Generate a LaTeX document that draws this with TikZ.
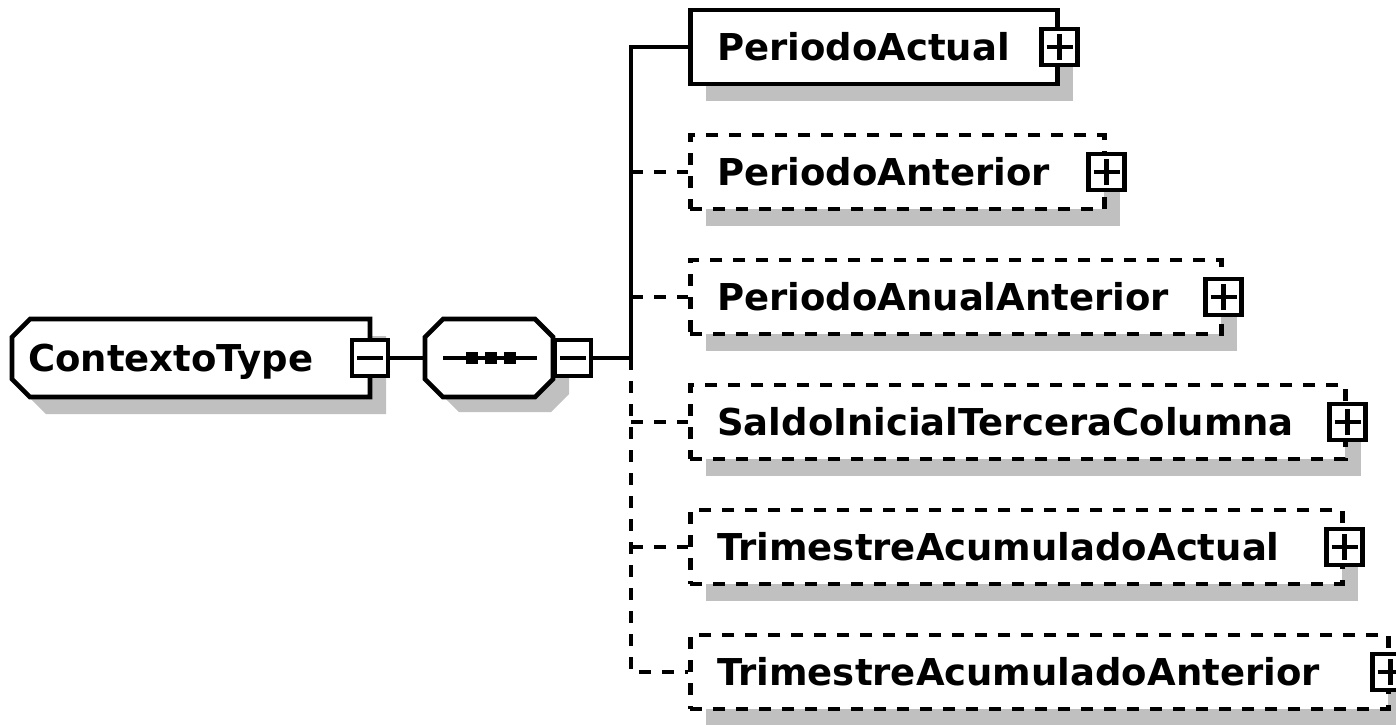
\documentclass[tikz,border=0pt]{standalone}
\usepackage{fontspec}
\setmainfont{DejaVu Sans}
\usetikzlibrary{shadows}
\definecolor{shadowgray}{RGB}{192,192,192}
\tikzset{
  lw/.style={line width=4.6pt},
  conn/.style={lw},
  dconn/.style={lw, dash pattern=on 12pt off 11pt},
  elemsolid/.style={draw, lw, fill=white, minimum height=74pt, inner sep=0pt, anchor=west,
    drop shadow={shadow xshift=16pt, shadow yshift=-17pt, fill=shadowgray, opacity=1}},
  elemdash/.style={elemsolid, dash pattern=on 12pt off 11pt},
  elemlabel/.style={font=\fontsize{37}{40}\selectfont\bfseries, inner sep=0pt, anchor=base west},
  sqbox/.style={draw, lw, fill=white, minimum size=36pt, inner sep=0pt},
  plusbox/.style={sqbox, path picture={
    \draw[lw] ([xshift=-13pt]path picture bounding box.center) -- ([xshift=13pt]path picture bounding box.center);
    \draw[lw] ([yshift=-13pt]path picture bounding box.center) -- ([yshift=13pt]path picture bounding box.center);}},
  minusbox/.style={sqbox, path picture={
    \draw[lw] ([xshift=-13pt]path picture bounding box.center) -- ([xshift=13pt]path picture bounding box.center);}},
}
\begin{document}
\begin{tikzpicture}[x=1pt,y=-1pt]
\clip (0,0) rectangle (1396,724);
\fill[white] (0,0) rectangle (1396,724);

% ContextoType element
\begin{scope}[shift={(16,17)}]
  \fill[shadowgray] (30,319) -- (370,319) -- (370,397) -- (30,397) -- (12,379) -- (12,337) -- cycle;
\end{scope}
\draw[lw, fill=white] (30,319) -- (370,319) -- (370,397) -- (30,397) -- (12,379) -- (12,337) -- cycle;
\node[elemlabel] (ctx) at (28,371.5) {ContextoType};
\node[minusbox] (m1) at (370,358) {};

% sequence compositor
\begin{scope}[shift={(16,15)}]
  \fill[shadowgray] (443,319) -- (535,319) -- (553,337) -- (553,379) -- (535,397) -- (443,397) -- (425,379) -- (425,337) -- cycle;
\end{scope}
\draw[lw, fill=white] (443,319) -- (535,319) -- (553,337) -- (553,379) -- (535,397) -- (443,397) -- (425,379) -- (425,337) -- cycle;
\node[inner sep=0pt, minimum width=128pt, minimum height=78pt] (seq) at (489,358) {};
\draw[conn] (443,358) -- (537,358);
\fill (466,352) rectangle +(12,12);
\fill (485,352) rectangle +(12,12);
\fill (504,352) rectangle +(12,12);
\node[minusbox] (m2) at (573,358) {};
\draw[conn] (m1.east) -- (seq.west);

\coordinate (tr) at (631,358);
\draw[conn] (m2.east) -- (tr);

% children
\node[elemsolid, minimum width=367pt] (b1) at (688,47) {};
\node[elemlabel] (t1) at (717,60.5) {PeriodoActual};
\node[plusbox] (p1) at (b1.east) {};

\node[elemdash, minimum width=414pt] (b2) at (688,172) {};
\node[elemlabel] (t2) at (717,185.5) {PeriodoAnterior};
\node[plusbox] (p2) at (b2.east) {};

\node[elemdash, minimum width=531pt] (b3) at (688,297) {};
\node[elemlabel] (t3) at (717,310.5) {PeriodoAnualAnterior};
\node[plusbox] (p3) at (b3.east) {};

\node[elemdash, minimum width=655pt] (b4) at (688,422) {};
\node[elemlabel] (t4) at (717,435.5) {SaldoInicialTerceraColumna};
\node[plusbox] (p4) at (b4.east) {};

\node[elemdash, minimum width=652pt] (b5) at (688,547) {};
\node[elemlabel] (t5) at (717,560.5) {TrimestreAcumuladoActual};
\node[plusbox] (p5) at (b5.east) {};

\node[elemdash, minimum width=698pt] (b6) at (688,672) {};
\node[elemlabel] (t6) at (717,685.5) {TrimestreAcumuladoAnterior};
\node[plusbox] (p6) at (b6.east) {};

% connectors
\draw[conn] (tr) |- (b1.west);
\draw[dconn] (tr) |- (b6.west);
\draw[dconn] (tr |- b2.west) -- (b2.west);
\draw[dconn] (tr |- b3.west) -- (b3.west);
\draw[dconn] (tr |- b4.west) -- (b4.west);
\draw[dconn] (tr |- b5.west) -- (b5.west);
\end{tikzpicture}
\end{document}
